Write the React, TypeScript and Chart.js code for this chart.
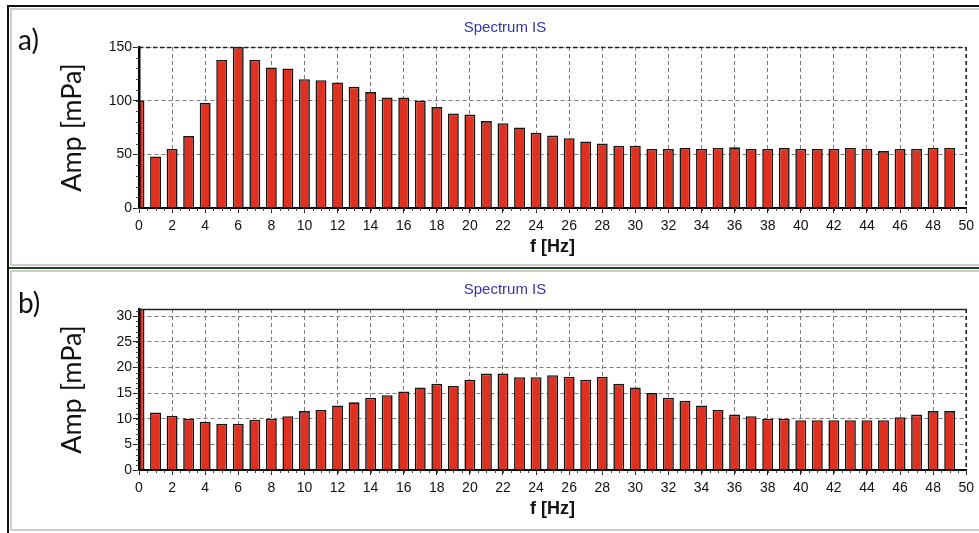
import React, { useEffect, useRef } from "react";
import { Chart, registerables } from "chart.js";

Chart.register(...registerables);

// ---- data ----
const freqs = [
  0, 1, 2, 3, 4, 5, 6, 7, 8, 9, 10, 11, 12, 13, 14, 15, 16, 17, 18, 19, 20, 21, 22, 23, 24,
  25, 26, 27, 28, 29, 30, 31, 32, 33, 34, 35, 36, 37, 38, 39, 40, 41, 42, 43, 44, 45, 46, 47, 48, 49,
];
const ampA = [
  100, 48, 55, 67, 98, 138, 150, 138, 131, 130, 120, 119, 117, 113, 108, 103, 103, 100, 94, 88,
  87, 81, 79, 75, 70, 67.5, 65, 62, 60, 58, 58, 55, 55, 56, 55, 56, 56.5, 55, 55, 56,
  55, 55, 55, 56, 55, 53, 55, 55, 56, 56,
];
const ampB = [
  31.4, 11.2, 10.6, 10.0, 9.4, 9.0, 9.0, 9.8, 10.0, 10.5, 11.5, 11.7, 12.6, 13.2, 14.1, 14.6, 15.3, 16.1, 16.8, 16.4,
  17.6, 18.8, 18.8, 18.1, 18.1, 18.5, 18.2, 17.6, 18.2, 16.8, 16.1, 15.0, 14.1, 13.5, 12.6, 11.7, 10.8, 10.5, 10.0, 10.0,
  9.7, 9.7, 9.7, 9.7, 9.7, 9.7, 10.3, 10.8, 11.5, 11.5,
];
const xMin = 0;
const xMax = 50;
const xStep = 2;
const xMinorStep = 0.5;
const yMaxA = 150;
const yStepA = 50;
const yMinorA = 10;
const yMaxB = 31.4;
const yStepB = 5;
const yMinorB = 1;
const chartTitle = "Spectrum IS";
const xTitle = "f [Hz]";
const yTitle = "Amp [mPa]";

const SANS = '"Liberation Sans", Arial, sans-serif';
const HUMAN = 'Lato, "Open Sans", sans-serif';

type Props = {
  values: number[];
  yMax: number;
  yStep: number;
  yMinor: number;
  dashedTop: boolean;
  top: number;
};

function SpectrumChart({ values, yMax, yStep, yMinor, dashedTop, top }: Props) {
  const ref = useRef<HTMLCanvasElement>(null);
  useEffect(() => {
    if (!ref.current) return;
    const data = freqs.map((f, i) => ({ x: f, y: values[i] }));
    const frame = {
      id: "frame",
      afterDraw(chart: any) {
        const { ctx, chartArea } = chart;
        const xs = chart.scales.x;
        const ys = chart.scales.y;
        ctx.save();
        // top border
        ctx.strokeStyle = "#222";
        ctx.lineWidth = 1.4;
        ctx.setLineDash(dashedTop ? [4, 3] : []);
        ctx.beginPath();
        ctx.moveTo(chartArea.left, chartArea.top + 0.5);
        ctx.lineTo(chartArea.right, chartArea.top + 0.5);
        ctx.stroke();
        // right border
        ctx.setLineDash([4, 3]);
        ctx.lineWidth = 1.6;
        ctx.beginPath();
        ctx.moveTo(chartArea.right, chartArea.top);
        ctx.lineTo(chartArea.right, chartArea.bottom);
        ctx.stroke();
        ctx.setLineDash([]);
        // minor ticks
        ctx.lineWidth = 1;
        ctx.strokeStyle = "#444";
        ctx.beginPath();
        for (let v = xMin; v <= xMax + 1e-9; v += xMinorStep) {
          const px = Math.round(xs.getPixelForValue(v)) + 0.5;
          ctx.moveTo(px, chartArea.bottom);
          ctx.lineTo(px, chartArea.bottom + 3);
        }
        for (let v = 0; v <= yMax + 1e-9; v += yMinor) {
          const py = Math.round(ys.getPixelForValue(v)) + 0.5;
          ctx.moveTo(chartArea.left - 3, py);
          ctx.lineTo(chartArea.left, py);
        }
        ctx.stroke();
        ctx.restore();
      },
    };
    const chart = new Chart(ref.current, {
      type: "bar",
      data: {
        datasets: [
          {
            data,
            backgroundColor: "#e03020",
            borderColor: "#151515",
            borderWidth: 1.6,
            borderSkipped: "start",
            categoryPercentage: 1,
            barPercentage: 0.66,
            clip: 0,
          } as any,
        ],
      },
      options: {
        animation: false,
        responsive: false,
        maintainAspectRatio: false,
        layout: { padding: { left: 28, right: 9, top: 0, bottom: 0 } },
        plugins: {
          legend: { display: false },
          tooltip: { enabled: false },
          title: {
            display: true,
            text: chartTitle,
            color: "#3535a8",
            font: { family: SANS, size: 15, weight: "normal" },
            padding: { top: 9, bottom: 10 },
          },
        },
        scales: {
          x: {
            type: "linear",
            min: xMin,
            max: xMax,
            offset: false,
            grid: {
              offset: false,
              color: "#7a7a7a",
              lineWidth: 1,
              tickColor: "#222",
              tickLength: 5,
              tickWidth: 1,
            },
            border: { color: "#000", width: 2, dash: [4, 3], z: 1 },
            ticks: {
              stepSize: xStep,
              color: "#111",
              font: { family: SANS, size: 14 },
              padding: 5,
              maxRotation: 0,
              autoSkip: false,
            },
            title: {
              display: true,
              text: xTitle,
              color: "#111",
              font: { family: SANS, size: 18, weight: "bold" },
              padding: { top: 0, bottom: 7 },
            },
            afterFit(s: any) {
              s.height = 57;
            },
          },
          y: {
            type: "linear",
            min: 0,
            max: yMax,
            grid: {
              color: "#7a7a7a",
              lineWidth: 1,
              tickColor: "#222",
              tickLength: 6,
              tickWidth: 1,
            },
            border: { color: "#000", width: 2.5, dash: [4, 3], z: 1 },
            ticks: {
              stepSize: yStep,
              includeBounds: false,
              color: "#111",
              font: { family: SANS, size: 14 },
              padding: 1,
            },
            title: {
              display: true,
              text: yTitle,
              color: "#111",
              font: { family: HUMAN, size: 27, weight: "normal" },
              padding: { top: 16, bottom: 0 },
            },
            afterFit(s: any) {
              s.width = 99;
            },
          },
        },
      } as any,
      plugins: [frame],
    });
    return () => chart.destroy();
  }, []);
  return (
    <canvas
      ref={ref}
      width={967}
      height={255}
      style={{ position: "absolute", left: 12, top, width: 967, height: 255 }}
    />
  );
}

export default function App() {
  return (
    <div
      style={{
        position: "fixed",
        left: 0,
        top: 0,
        width: 979,
        height: 533,
        background: "#fff",
        overflow: "hidden",
      }}
    >
      {/* outer frame lines */}
      <div style={{ position: "absolute", left: 7, top: 5, width: 972, height: 2, background: "#111" }} />
      <div style={{ position: "absolute", left: 7, top: 5, width: 2, height: 528, background: "#111" }} />
      <div
        style={{
          position: "absolute",
          left: 10,
          top: 8,
          width: 975,
          height: 254,
          border: "2px solid #cdcdcd",
        }}
      />
      <div style={{ position: "absolute", left: 9, top: 267, width: 970, height: 2, background: "#1e4a1e" }} />
      <div
        style={{
          position: "absolute",
          left: 10,
          top: 270,
          width: 975,
          height: 257,
          border: "2px solid #cdcdcd",
        }}
      />
      <SpectrumChart values={ampA} yMax={yMaxA} yStep={yStepA} yMinor={yMinorA} dashedTop={true} top={10} />
      <SpectrumChart values={ampB} yMax={yMaxB} yStep={yStepB} yMinor={yMinorB} dashedTop={false} top={272} />
      <div
        style={{
          position: "absolute",
          left: 18,
          top: 25,
          fontFamily: HUMAN,
          fontSize: 28,
          lineHeight: "28px",
          color: "#111",
        }}
      >
        a)
      </div>
      <div
        style={{
          position: "absolute",
          left: 18,
          top: 288,
          fontFamily: HUMAN,
          fontSize: 28,
          lineHeight: "28px",
          color: "#111",
        }}
      >
        b)
      </div>
    </div>
  );
}
